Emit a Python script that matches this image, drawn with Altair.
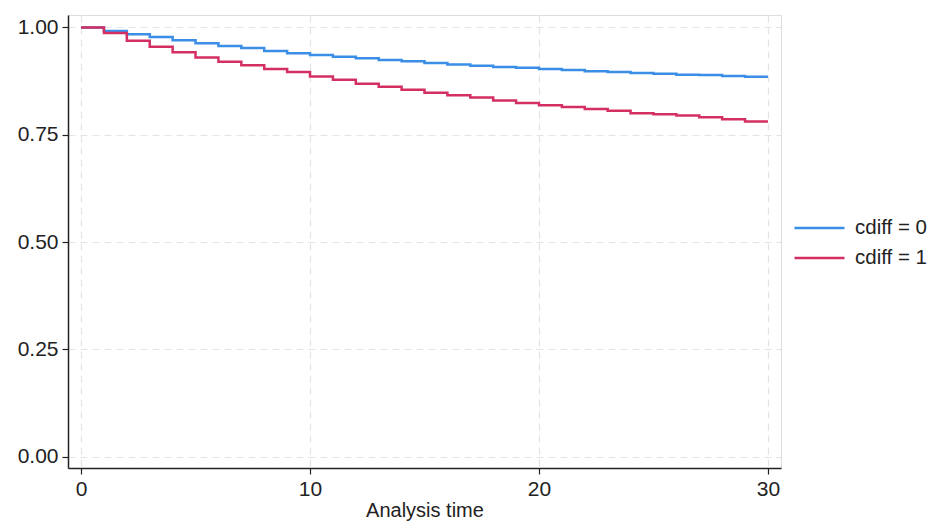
import altair as alt
import pandas as pd

times = list(range(0, 31))
surv_cdiff0 = [1.000, 0.992, 0.984, 0.978, 0.970, 0.963, 0.957, 0.952, 0.945, 0.940,
               0.936, 0.932, 0.928, 0.924, 0.921, 0.917, 0.914, 0.911, 0.908, 0.906,
               0.903, 0.901, 0.898, 0.896, 0.894, 0.892, 0.890, 0.889, 0.887, 0.885, 0.885]
surv_cdiff1 = [1.000, 0.987, 0.969, 0.955, 0.942, 0.930, 0.920, 0.912, 0.903, 0.896,
               0.886, 0.878, 0.869, 0.862, 0.855, 0.848, 0.842, 0.837, 0.830, 0.824,
               0.819, 0.815, 0.810, 0.806, 0.800, 0.798, 0.795, 0.791, 0.786, 0.781, 0.781]
groups = ["cdiff = 0", "cdiff = 1"]
colors = ["#3a8ee6", "#d42f62"]
x_ticks = [0, 10, 20, 30]
y_ticks = [0, 0.25, 0.5, 0.75, 1.0]

df = pd.concat([
    pd.DataFrame({"time": times, "surv": surv_cdiff0, "group": groups[0]}),
    pd.DataFrame({"time": times, "surv": surv_cdiff1, "group": groups[1]}),
])

FONT = "Liberation Sans"
FS = 21

chart = alt.Chart(df).mark_line(interpolate="step-after", strokeWidth=2.5).encode(
    x=alt.X("time:Q",
            scale=alt.Scale(domain=[-0.57, 30.57], nice=False, zero=False),
            axis=alt.Axis(values=x_ticks, title="Analysis time", format="d",
                          grid=True, gridDash=[7, 5], gridColor="#e3e3e3", gridWidth=1.2,
                          domainColor="#222222", domainWidth=1.5,
                          tickColor="#222222", tickSize=6, tickWidth=1.2,
                          labelFontSize=FS, labelPadding=4, labelColor="#222222",
                          titleFontSize=20, titleFontWeight="normal", titleColor="#222222",
                          titlePadding=1, labelFont=FONT, titleFont=FONT)),
    y=alt.Y("surv:Q",
            scale=alt.Scale(domain=[-0.026, 1.029], nice=False, zero=False),
            axis=alt.Axis(values=y_ticks, title=None, format=".2f",
                          grid=True, gridDash=[7, 5], gridColor="#e3e3e3", gridWidth=1.2,
                          domainColor="#222222", domainWidth=1.5,
                          tickColor="#222222", tickSize=6, tickWidth=1.2,
                          labelFontSize=FS, labelPadding=4, labelColor="#222222",
                          labelFont=FONT)),
    color=alt.Color("group:N",
                    scale=alt.Scale(domain=groups, range=colors),
                    legend=alt.Legend(title=None, orient="none", legendX=725, legendY=199,
                                      symbolType="stroke", symbolSize=2500,
                                      symbolStrokeWidth=2.5, clipHeight=28, rowPadding=2,
                                      labelFontSize=20.5, labelFont=FONT, labelColor="#222222",
                                      labelOffset=9)),
).properties(
    width=713, height=453,
    autosize=alt.AutoSizeParams(type="none"),
    padding={"left": 60, "top": 7, "right": 148, "bottom": 55},
).configure_view(stroke=None).configure(background="white")

chart.save("out.html", embed_options={"renderer": "svg", "actions": False})
